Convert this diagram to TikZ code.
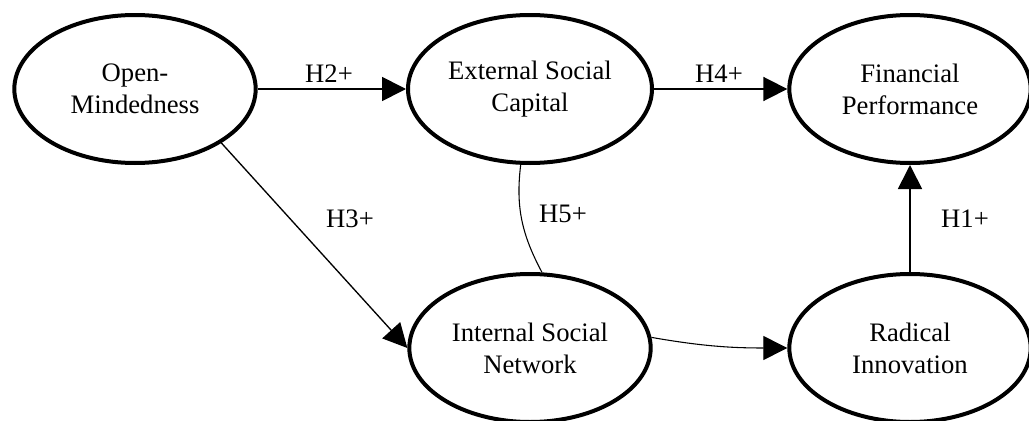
\documentclass[tikz,border=0pt]{standalone}
\usepackage{fontspec}
\setmainfont{Liberation Serif}
\usetikzlibrary{arrows.meta,shapes.geometric}

\tikzset{
  latent/.style={ellipse, draw, line width=3pt, minimum width=181pt,
    minimum height=111pt, align=center, font=\fontsize{20}{24}\selectfont},
  hyp/.style={inner sep=0pt, font=\fontsize{20}{24}\selectfont},
  tip/.style={-{Triangle[length=18pt,width=18pt]}},
}

\begin{document}
\begin{tikzpicture}[x=0.75pt, y=-0.75pt]
    \useasboundingbox (0,0) rectangle (1029,421);
    \path
    (135,89) node[latent] (om) {Open-\\Mindedness}
    (530,89) node[latent] (esc) {External Social\\Capital}
    (910,89) node[latent] (fp) {Financial\\Performance}
    (530,348) node[latent] (isn) {Internal Social\\Network}
    (910,348) node[latent] (ri) {Radical\\Innovation};

    \path
    (329,74) node[hyp] (h2) {H2+}
    (719,74) node[hyp] (h4) {H4+}
    (350,219) node[hyp] (h3) {H3+}
    (563,214) node[hyp] (h5) {H5+}
    (965,219) node[hyp] (h1) {H1+};

    \draw[tip, line width=1.3pt, color=black]
    (om) -- (esc);
    \draw[tip, line width=1.3pt, color=black]
    (esc) -- (fp);
    \draw[tip, line width=1.3pt, color=black]
    (ri) -- (fp);
    \draw[tip, line width=1pt, color=black]
    (om.-32) -- (isn.west);

    \draw[tip, line width=0.8pt, color=black]
    (isn.5) to[out=-10, in=180] (ri.west);
    \draw[-, line width=0.8pt, color=black]
    (esc.-97) to[out=-97, in=118] (isn.81);

  \end{tikzpicture}
\end{document}
